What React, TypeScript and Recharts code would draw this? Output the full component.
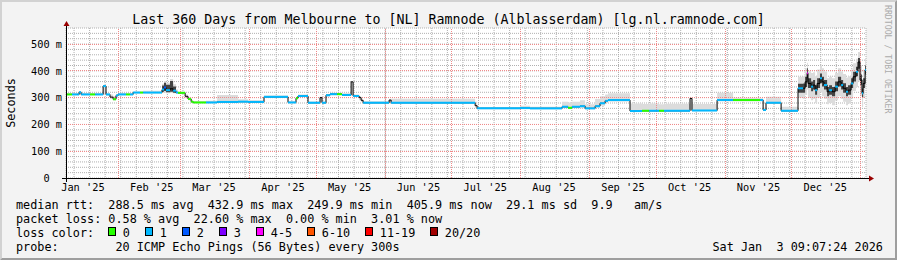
import React from 'react'
import { ComposedChart, Area, Line, XAxis, YAxis, ReferenceLine, CartesianGrid } from 'recharts'

// x = days since the start of the 360 day window (Jan 8 2025 09:07)
const days = [
  0, 2.7, 5.0, 5.9, 6.8, 10.8, 13.1, 16.7, 18.0, 19.8,
  21.2, 22.5, 23.4, 27.0, 28.8, 30.2, 33.3, 34.7, 43.2, 44.1,
  45.0, 46.8, 48.2, 49.5, 50.4, 53.6, 54.9, 56.3, 57.2, 63.0,
  68.0, 77.4, 81.9, 89.1, 99.9, 103.5, 104.4, 108.9, 114.3, 115.2,
  117.0, 118.8, 122.0, 124.2, 128.3, 129.2, 131.9, 132.8, 133.7, 145.4,
  146.3, 184.1, 185.0, 204.3, 208.8, 223.2, 225.9, 227.7, 231.3, 233.6,
  238.1, 240.3, 242.6, 243.9, 253.8, 259.2, 262.4, 266.9, 269.1, 280.8,
  281.7, 293.0, 300.2, 312.3, 313.7, 315.0, 321.8, 329.4, 331.7, 332.6,
  333.5, 333.9, 335.3, 336.2, 337.1, 338.0, 339.3, 340.2, 341.1, 342.5,
  343.4, 344.7, 346.1, 347.4, 348.8, 349.7, 351.0, 351.9, 353.3, 354.2,
  355.5, 356.4, 357.3, 358.2, 358.7, 359.6, 360,
]

// median rtt in ms
const medianRtt = [
  312, 312, 312, 320, 312, 312, 312, 343, 312, 302,
  294, 308, 312, 312, 312, 319, 319, 319, 330, 338,
  328, 333, 326, 319, 318, 305, 295, 285, 282, 282,
  284, 285, 284, 303, 282, 298, 306, 281, 300, 281,
  309, 313, 313, 310, 359, 306, 300, 290, 281, 291,
  281, 270, 260, 261, 260, 266, 262, 266, 268, 260,
  268, 279, 288, 291, 250, 251, 251, 251, 251, 297,
  252, 291, 291, 291, 254, 281, 251, 335, 335, 359,
  391, 353, 341, 347, 328, 353, 372, 359, 347, 322,
  328, 322, 341, 359, 347, 335, 322, 328, 353, 378,
  397, 433, 366, 316, 353, 403, 406,
]

// loss colour bucket per step (index into lossLabels), null = drawn black only
const lossBucket = [
  0, 1, 1, 1, 1, 0, 1, 1, 1, null,
  0, 1, 1, 0, 1, 1, 0, 1, 1, 2,
  1, null, 1, 1, 0, null, 0, 0, 0, 1,
  1, 1, 1, 1, 1, 0, 1, 1, null, 1,
  1, 1, 0, 1, null, 1, null, null, 1, null,
  1, null, 1, 1, 1, 1, 0, 1, 1, 1,
  1, 1, 1, 1, 1, 0, 1, 0, 1, null,
  1, 1, 0, 1, 1, 1, 1, 1, null, null,
  4, null, 1, null, 1, null, 1, null, 1, null,
  1, null, 1, null, 1, null, 1, null, 1, null,
  1, null, null, 1, null, 1, null,
]

// smoke envelope (ms)
const smokeLow = [
  309, 309, 309, 311, 309, 309, 309, 312, 307, 296,
  289, 300, 309, 309, 309, 316, 316, 316, 318, 318,
  316, 318, 316, 315, 315, 298, 290, 281, 279, 279,
  280, 281, 281, 299, 279, 294, 302, 278, 283, 278,
  304, 309, 309, 306, 310, 302, 290, 284, 278, 280,
  278, 262, 257, 258, 257, 260, 258, 260, 260, 257,
  262, 270, 280, 286, 247, 248, 248, 248, 248, 250,
  249, 287, 287, 287, 250, 277, 248, 300, 295, 310,
  330, 300, 290, 295, 280, 300, 320, 305, 295, 275,
  280, 272, 290, 305, 295, 285, 272, 278, 300, 325,
  340, 360, 305, 265, 300, 345, 350,
]
const smokeHigh = [
  316, 316, 317, 324, 316, 316, 316, 347, 315, 312,
  306, 314, 316, 316, 316, 323, 323, 326, 352, 362,
  356, 370, 350, 330, 322, 312, 302, 290, 287, 288,
  310, 294, 290, 308, 287, 303, 312, 286, 303, 286,
  314, 318, 318, 316, 362, 312, 306, 296, 287, 294,
  296, 285, 265, 270, 266, 285, 282, 285, 290, 275,
  295, 305, 312, 316, 278, 276, 278, 275, 277, 300,
  276, 318, 300, 298, 262, 303, 266, 378, 380, 410,
  430, 400, 392, 395, 380, 405, 420, 410, 398, 372,
  378, 372, 392, 410, 398, 388, 375, 380, 405, 428,
  445, 470, 420, 370, 405, 448, 450,
]

// dense smoke core (late Feb spikes and December), null where there is none
const denseLow = [
  null, null, null, null, null, null, null, null, null, null,
  null, null, null, null, null, null, null, null, 322, 325,
  320, 322, 318, 316, null, null, null, null, null, null,
  null, null, null, null, null, null, null, null, null, null,
  null, null, null, null, null, null, null, null, null, null,
  null, null, null, null, null, null, null, null, null, null,
  null, null, null, null, null, null, null, null, null, null,
  null, null, null, null, null, null, null, 318, 318, 340,
  372, 336, 324, 330, 311, 336, 354, 342, 330, 305,
  311, 305, 324, 342, 330, 318, 305, 311, 336, 360,
  380, 408, 348, 299, 336, 386, 388,
]
const denseHigh = [
  null, null, null, null, null, null, null, null, null, null,
  null, null, null, null, null, null, null, null, 345, 356,
  348, 362, 342, 322, null, null, null, null, null, null,
  null, null, null, null, null, null, null, null, null, null,
  null, null, null, null, null, null, null, null, null, null,
  null, null, null, null, null, null, null, null, null, null,
  null, null, null, null, null, null, null, null, null, null,
  null, null, null, null, null, null, null, 352, 353, 378,
  410, 372, 360, 366, 346, 372, 390, 378, 366, 340,
  346, 340, 360, 378, 366, 354, 340, 346, 372, 397,
  415, 448, 386, 334, 372, 420, 424,
]

const monthLabels = ["Jan '25", "Feb '25", "Mar '25", "Apr '25", "May '25", "Jun '25",
  "Jul '25", "Aug '25", "Sep '25", "Oct '25", "Nov '25", "Dec '25"]
const monthLabelDays = [7.62, 38.62, 66.62, 97.62, 127.62, 158.62, 188.62, 219.62, 250.62, 280.62, 311.62, 341.62]
const monthStartDays = [23.62, 51.62, 82.62, 112.62, 143.62, 173.62, 204.62, 235.62, 265.62, 296.62, 326.62, 357.62]
const yTicks = [0, 100, 200, 300, 400, 500]

const lossLabels = ['0', '1', '2', '3', '4-5', '6-10', '11-19', '20/20']
const lossColors = ['#26ff00', '#00b8ff', '#0059ff', '#7e00ff', '#ff00ff', '#ff5500', '#ff0000', '#a10000']
const lossBoxX = [108.5, 145.5, 182.5, 219.5, 256.5, 307.5, 365.5, 430.5]

const rows = days.map((d, i) => ({
  day: d,
  median: medianRtt[i],
  smoke: [smokeLow[i], smokeHigh[i]],
  dense: denseLow[i] == null ? null : [denseLow[i], denseHigh[i]],
}))

// weekly minor grid (Sundays) and 20 ms minor grid, drawn off two hidden axes
const weekDays: number[] = []
for (let d = 3.62; d < 360; d += 7) weekDays.push(Math.round(d * 100) / 100)
const minorMs: number[] = []
for (let v = 20; v <= 560; v += 20) minorMs.push(v)

const FONT = "'DejaVu Sans Mono', monospace"
const MINOR = '#b0b0b0'
const MAJOR = '#f08a8a'

// svg collapses runs of spaces, rrdtool legends rely on them
const pre = (s: string) => s.replace(/ /g, '\u00A0')

const MonthTick = (p: any) => {
  const i = monthLabelDays.indexOf(p.payload.value)
  return (
    <text x={p.x} y={190.8} textAnchor="middle" fontSize={10.3} fontFamily={FONT} fill="#000">
      {pre(monthLabels[i])}
    </text>
  )
}

const SecTick = (p: any) => {
  const v = p.payload.value
  return (
    <text x={62} y={p.y + 3.8} textAnchor="end" fontSize={10.3} fontFamily={FONT} fill="#000">
      {pre(v === 0 ? '0  ' : `${v} m`)}
    </text>
  )
}

const legend1 = 'median rtt:  288.5 ms avg  432.9 ms max  249.9 ms min  405.9 ms now  29.1 ms sd  9.9   am/s'
const legend2 = 'packet loss: 0.58 % avg  22.60 % max  0.00 % min  3.01 % now'
const legend4 = 'probe:        20 ICMP Echo Pings (56 Bytes) every 300s'
const stamp = 'Sat Jan  3 09:07:24 2026'
const title = 'Last 360 Days from Melbourne to [NL] Ramnode (Alblasserdam) [lg.nl.ramnode.com]'

export default function App() {
  return (
    <div style={{ position: 'absolute', left: 0, top: 0, width: 897, height: 260, background: '#f3f3f3' }}>
      <ComposedChart
        width={897}
        height={260}
        data={rows}
        margin={{ top: 28, right: 31, bottom: 62, left: 26 }}
        style={{ position: 'absolute', left: 0, top: 0 }}
      >
        <CartesianGrid
          xAxisId="wk"
          yAxisId="ms"
          fill="#ffffff"
          fillOpacity={1}
          stroke={MINOR}
          strokeDasharray="1 1"
        />
        <XAxis
          type="number"
          dataKey="day"
          domain={[0, 360]}
          allowDataOverflow
          ticks={monthLabelDays}
          interval={0}
          tickLine={false}
          axisLine={false}
          height={20}
          tick={MonthTick}
        />
        <XAxis xAxisId="wk" type="number" dataKey="day" domain={[0, 360]} allowDataOverflow ticks={weekDays} interval={0} hide />
        <YAxis
          type="number"
          domain={[0, 560]}
          allowDataOverflow
          ticks={yTicks}
          interval={0}
          tickLine={false}
          axisLine={false}
          width={40}
          tick={SecTick}
        />
        <YAxis yAxisId="ms" type="number" domain={[0, 560]} allowDataOverflow ticks={minorMs} interval={0} hide />
        <Area type="stepAfter" dataKey="smoke" stroke="none" fill="#dcdcdc" fillOpacity={1} isAnimationActive={false} />
        <Area type="stepAfter" dataKey="dense" stroke="none" fill="#444444" fillOpacity={1} isAnimationActive={false} />
        {monthStartDays.map((d) => (
          <ReferenceLine key={'m' + d} x={d} stroke={MAJOR} strokeDasharray="1 1" shapeRendering="crispEdges" />
        ))}
        {yTicks.slice(1).map((v) => (
          <ReferenceLine key={'M' + v} y={v} stroke={MAJOR} strokeDasharray="1 1" shapeRendering="crispEdges" />
        ))}
        <Line type="stepAfter" dataKey="median" stroke="#000" strokeWidth={1} dot={false} activeDot={false} isAnimationActive={false} />
        {days.slice(0, -1).map((d, i) =>
          lossBucket[i] == null ? null : (
            <ReferenceLine
              key={'s' + i}
              segment={[{ x: d, y: medianRtt[i] }, { x: days[i + 1], y: medianRtt[i] }]}
              stroke={lossColors[lossBucket[i] as number]}
              strokeWidth={2}
            />
          )
        )}
      </ComposedChart>

      <svg width={897} height={260} style={{ position: 'absolute', left: 0, top: 0, pointerEvents: 'none' }} fontFamily={FONT}>
        <path d="M0 0 H897 L895 2 H2 V258 L0 260 Z" fill="#d2d2d2" />
        <path d="M897 0 V260 H0 L2 258 H895 V2 Z" fill="#9e9e9e" />

        <text x={448.5} y={23.8} textAnchor="middle" fontSize={13.3} fill="#000">{pre(title)}</text>
        <text transform="translate(15,103) rotate(-90)" textAnchor="middle" fontSize={11.8} fill="#000">Seconds</text>
        <text transform="translate(885,5) rotate(90)" fontSize={8.2} fill="#ababab">{pre('RRDTOOL / TOBI OETIKER')}</text>

        <line x1={62} y1={178.5} x2={869} y2={178.5} stroke="#000" strokeWidth={1} />
        <line x1={66.5} y1={24} x2={66.5} y2={182} stroke="#000" strokeWidth={1} />
        <path d="M869 175.5 L874 178.5 L869 181.5 Z" fill="#990000" />
        <path d="M63.5 26 L66.5 21 L69.5 26 Z" fill="#990000" />

        <g fontSize={11.8} fill="#000">
          <text x={16} y={208.5}>{pre(legend1)}</text>
          <text x={16} y={222.5}>{pre(legend2)}</text>
          <text x={16} y={236.5}>{pre('loss color:')}</text>
          <text x={16} y={250.5}>{pre(legend4)}</text>
          <text x={712.5} y={250.5}>{pre(stamp)}</text>
        </g>
        {lossLabels.map((l, i) => (
          <g key={l}>
            <rect x={lossBoxX[i]} y={227.5} width={7} height={8} fill={lossColors[i]} stroke="#000" strokeWidth={1} />
            <text x={lossBoxX[i] + 14.3} y={236.5} fontSize={11.8} fill="#000">{l}</text>
          </g>
        ))}
      </svg>
    </div>
  )
}
